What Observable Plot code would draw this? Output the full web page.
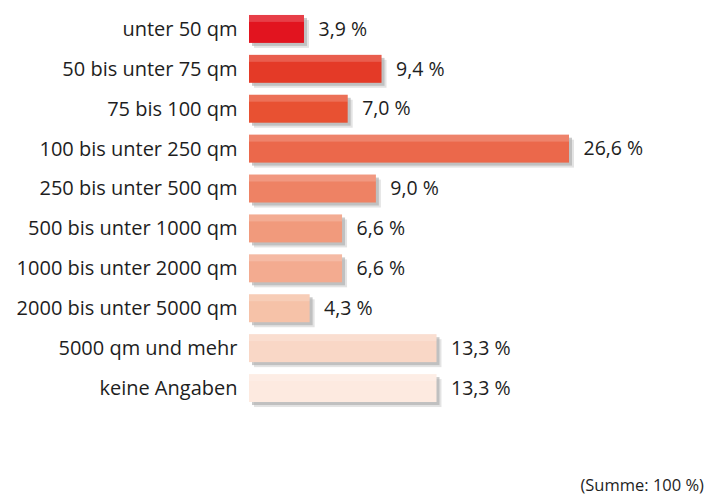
<!DOCTYPE html>
<html>
<head>
<meta charset="utf-8">
<script src="https://cdn.jsdelivr.net/npm/d3@7"></script>
<script src="https://cdn.jsdelivr.net/npm/@observablehq/plot@0.6"></script>
<style>
  html, body { margin: 0; padding: 0; background: #fff; }
  body { width: 708px; height: 498px; position: relative; font-family: "Open Sans", sans-serif; }
  #foot { position: absolute; left: 0; width: 704px; top: 473px; text-align: right; font-size: 16.5px; color: #1e1e1e; line-height: 24px; }
</style>
</head>
<body>
<div id="chart"></div>
<div id="foot">(Summe: 100 %)</div>
<script>
const categories = [
  "unter 50 qm",
  "50 bis unter 75 qm",
  "75 bis 100 qm",
  "100 bis unter 250 qm",
  "250 bis unter 500 qm",
  "500 bis unter 1000 qm",
  "1000 bis unter 2000 qm",
  "2000 bis unter 5000 qm",
  "5000 qm und mehr",
  "keine Angaben"
];
const values = [3.9, 9.4, 7.0, 26.6, 9.0, 6.6, 6.6, 4.3, 13.3, 13.3];
const colors = ["#e2141f", "#e43a27", "#e85132", "#eb684b", "#ee8264", "#f19a7c", "#f3ab90", "#f6c2a8", "#f9d7c6", "#fdeae0"];

const data = categories.map((c, i) => ({cat: c, value: values[i], color: colors[i]}));
const fmt = v => v.toFixed(1).replace(".", ",") + " %";

const chart = Plot.plot({
  width: 708,
  height: 440,
  marginLeft: 249,
  marginRight: 139,
  marginTop: 3,
  marginBottom: 26,
  style: {fontFamily: "Open Sans, sans-serif", fontSize: "20px", color: "#1e1e1e", background: "#fff"},
  x: {domain: [0, 22.7], clamp: true, axis: null},
  y: {domain: categories, padding: 0.3, round: false, label: null, axis: null},
  marks: [
    Plot.barX(data, {y: "cat", x: "value", fill: "#8a8a8a", fillOpacity: 0.45, dx: 3, dy: 3}),
    Plot.barX(data, {y: "cat", x: "value", fill: "#b0b0b0", fillOpacity: 0.35, dx: 5, dy: 5}),
    Plot.barX(data, {y: "cat", x: "value", fill: "color"}),
    Plot.barX(data, {y: "cat", x: "value", fill: "#fff", fillOpacity: 0.18, insetBottom: 21}),
    Plot.axisY({tickSize: 0, tickPadding: 12, fontSize: 20, label: null, fill: "#1e1e1e"}),
    Plot.text(data, {y: "cat", x: "value", text: d => fmt(d.value), textAnchor: "start", dx: 14, fontSize: 19.5, fill: "#1e1e1e"})
  ]
});
document.getElementById("chart").appendChild(chart);
</script>
</body>
</html>
